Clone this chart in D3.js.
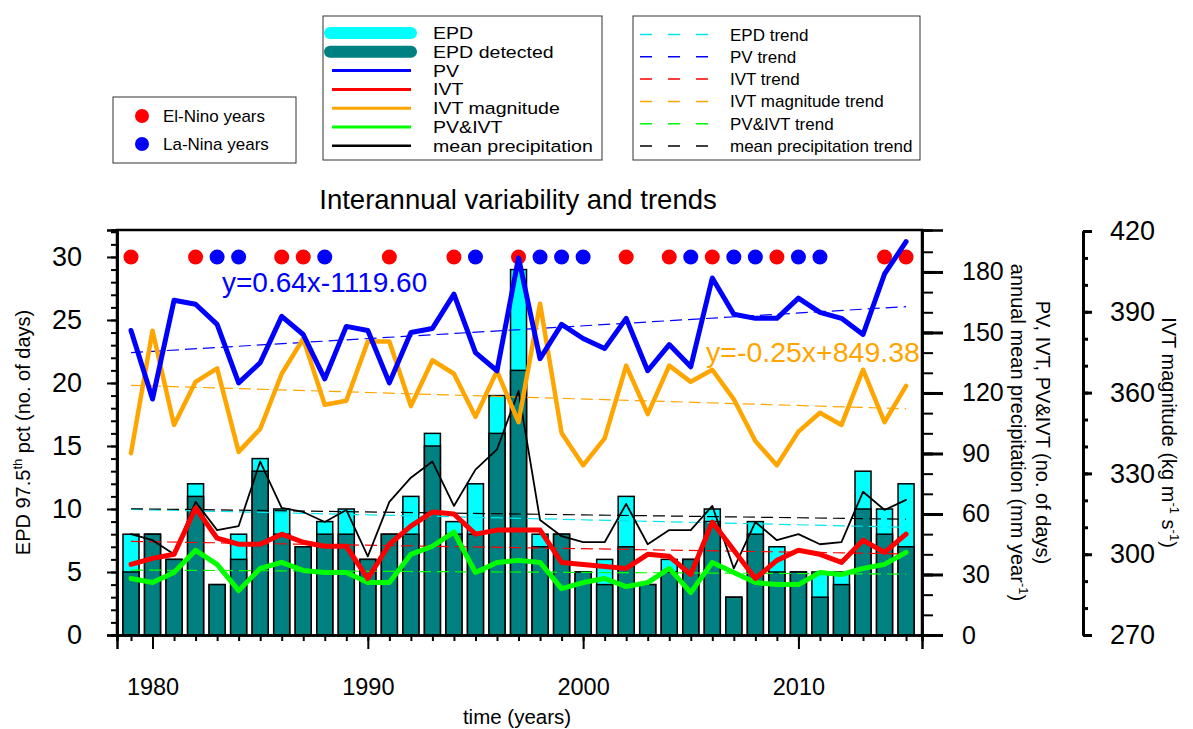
<!DOCTYPE html>
<html>
<head>
<meta charset="utf-8">
<script src="https://cdn.jsdelivr.net/npm/d3@7"></script>
<style>
  body { margin: 0; background: #fff; }
  svg { font-family: "Liberation Sans", Arial, Helvetica, sans-serif; }
</style>
</head>
<body>
<svg width="1193" height="729"></svg>
<script>
// ---- data ----
var years = d3.range(1979, 2016);
var epdTotal    = [8,8,6,12,4,8,14,10,7,9,10,6,8,11,16,9,12,19,29,8,8,5,6,11,4,6,6,10,3,9,7,5,5,5,13,10,12];
var epdDetected = [5,8,6,11,4,6,13,8,7,8,8,6,8,8,15,8,8,16,21,7,8,5,4,7,4,5,6,9,3,8,5,5,3,4,10,8,7];
var pvDays   = [151,117,166,164,154,125,135,158,149,127,153,151,125,150,152,169,140,131,187,137,154,147,142,157,131,144,133,177,159,157,157,167,160,157,149,179,195];
var ivtDays  = [35,38,40,63,48,45,45,50,46,44,44,28,45,54,61,60,50,52,52,52,36,35,34,33,40,39,30,56,42,28,37,42,40,36,47,41,50];
var pvIvtDays = [28,26,31,42,35,22,33,36,32,31,31,26,26,40,44,51,31,36,37,36,23,26,28,24,26,33,21,36,31,26,25,25,31,30,33,35,41];
var ivtMag   = [337.5,383,348,364,369,338,346.5,367,380,355.5,357,379,379,355,372,367,351,368,349,393,345,333,343,370,352,370,364,368.5,357.5,342,333,345.5,352.5,348,368.5,349,362.5];
var precip   = [50,47,40,66,52,54,86,63,61,56,62,39,66,78,86,64,82,92,121,57,49,46,46,65,45,52,52,64,33,56,47,50,45,46,71,62,67];

var elNino = [1979,1982,1986,1987,1991,1994,1997,2002,2004,2006,2009,2014,2015];
var laNina = [1983,1984,1988,1995,1998,1999,2000,2005,2007,2008,2010,2011];

// trend lines: [value at 1979, value at 2015]
var trendNames  = ['EPD trend','PV trend','IVT trend','IVT magnitude trend','PV&IVT trend','mean precipitation trend'];
var trendColors = ['#00e5ee','#0000ff','#ff0000','#ffa500','#00ff00','#000000'];
var trendAxis   = ['left','right','right','mag','right','right'];
var trendEnds   = [[9.97,8.55],[140,162.8],[46.4,40.2],[362.7,354],[32.2,30.2],[62.6,57.4]];

var leftTicks  = [0,5,10,15,20,25,30];
var rightTicks = [0,30,60,90,120,150,180];
var magTicks   = [270,300,330,360,390,420];
var yearTicks  = [1980,1990,2000,2010];

// ---- layout ----
var svg = d3.select('svg');
var L = 117, R = 922, T = 230, B = 635;

var x = d3.scaleLinear().domain([1978.35, 2015.74]).range([L, R]);
var yL = d3.scaleLinear().domain([0, 32.14]).range([B, T]);
var yR = d3.scaleLinear().domain([0, 200.8]).range([B, T]);
var yM = d3.scaleLinear().domain([270, 420]).range([B, 231]);
var scaleFor = {left: yL, right: yR, mag: yM};

// bars
var barW = 16;
var bars = years.map(function(y, i) { return {year: y, tot: epdTotal[i], det: epdDetected[i]}; });
svg.append('g').selectAll('rect').data(bars).enter().append('rect')
   .attr('x', function(d) { return x(d.year) - barW / 2; })
   .attr('y', function(d) { return yL(d.tot); })
   .attr('width', barW)
   .attr('height', function(d) { return B - yL(d.tot); })
   .attr('fill', '#00ffff').attr('stroke', '#000').attr('stroke-width', 1.5);
svg.append('g').selectAll('rect').data(bars).enter().append('rect')
   .attr('x', function(d) { return x(d.year) - barW / 2; })
   .attr('y', function(d) { return yL(d.det); })
   .attr('width', barW)
   .attr('height', function(d) { return B - yL(d.det); })
   .attr('fill', '#008080').attr('stroke', '#000').attr('stroke-width', 1.5);

// ENSO dots
svg.append('g').selectAll('circle').data(elNino).enter().append('circle')
   .attr('cx', function(d) { return x(d); }).attr('cy', yL(30)).attr('r', 7.5).attr('fill', '#ff0000');
svg.append('g').selectAll('circle').data(laNina).enter().append('circle')
   .attr('cx', function(d) { return x(d); }).attr('cy', yL(30)).attr('r', 7.5).attr('fill', '#0000ff');

// trend lines
trendEnds.forEach(function(e, i) {
  var s = scaleFor[trendAxis[i]];
  svg.append('line')
     .attr('x1', x(1979)).attr('x2', x(2015))
     .attr('y1', s(e[0])).attr('y2', s(e[1]))
     .attr('stroke', trendColors[i]).attr('stroke-width', 1.2)
     .attr('stroke-dasharray', '12,6');
});

// series lines
function drawLine(vals, scale, color, w) {
  var line = d3.line().x(function(d, i) { return x(years[i]); }).y(function(d) { return scale(d); });
  svg.append('path').datum(vals).attr('d', line)
     .attr('fill', 'none').attr('stroke', color).attr('stroke-width', w)
     .attr('stroke-linejoin', 'round').attr('stroke-linecap', 'round');
}
drawLine(precip, yR, '#000000', 1.8);
drawLine(ivtMag, yM, '#ffa500', 4.5);
drawLine(pvIvtDays, yR, '#00ff00', 5);
drawLine(ivtDays, yR, '#ff0000', 5);
drawLine(pvDays, yR, '#0000ff', 5);

// frame
svg.append('path').attr('d', 'M' + L + ',' + B + 'V' + T + 'H' + R + 'V' + B)
   .attr('fill', 'none').attr('stroke', '#000').attr('stroke-width', 2.5);

function styleAxis(g, size) {
  g.select('.domain').attr('stroke-width', 2.5);
  g.selectAll('.tick line').attr('stroke-width', 2);
  g.selectAll('text').style('font-size', size + 'px').attr('fill', '#000');
}

// left axis
var gl = svg.append('g').attr('transform', 'translate(' + L + ',0)');
gl.call(d3.axisLeft(yL).tickValues(d3.range(0, 33)).tickSize(6).tickFormat(''));
gl.append('g').call(d3.axisLeft(yL).tickValues(leftTicks).tickSize(10).tickPadding(25));
styleAxis(gl, 27);
gl.selectAll('.domain').attr('stroke-width', 2.5);

// bottom axis
var gb = svg.append('g').attr('transform', 'translate(0,' + B + ')');
gb.call(d3.axisBottom(x).tickValues(years).tickSize(6).tickFormat(''));
gb.append('g').call(d3.axisBottom(x).tickValues(yearTicks).tickSize(14).tickPadding(29).tickFormat(d3.format('d')));
styleAxis(gb, 23.5);
gb.selectAll('.domain').attr('stroke-width', 2.5);

// right axis
var gr = svg.append('g').attr('transform', 'translate(' + R + ',0)');
gr.call(d3.axisRight(yR).tickValues(d3.range(0, 200, 10)).tickSize(11).tickFormat(''));
gr.append('g').call(d3.axisRight(yR).tickValues(rightTicks).tickSize(21).tickPadding(19));
styleAxis(gr, 25);
gr.selectAll('.tick line').filter(function(d) { return rightTicks.indexOf(d) >= 0; }).attr('stroke-width', 3);
gr.selectAll('.domain').attr('stroke-width', 2.5);

// IVT magnitude axis
var gm = svg.append('g').attr('transform', 'translate(1083,0)');
gm.call(d3.axisRight(yM).tickValues(d3.range(270, 421, 10)).tickSize(5).tickFormat('').tickSizeOuter(0));
gm.append('g').call(d3.axisRight(yM).tickValues(magTicks).tickSize(9).tickPadding(18).tickSizeOuter(0));
styleAxis(gm, 27);
gm.selectAll('.tick line').attr('stroke-width', 3);
gm.selectAll('.domain').attr('stroke-width', 3);

// axis titles
var lt = svg.append('text').attr('transform', 'translate(30,' + ((T + B) / 2) + ') rotate(-90)')
   .attr('text-anchor', 'middle').style('font-size', '20px');
lt.append('tspan').text('EPD 97.5');
lt.append('tspan').text('th').attr('dy', -8).style('font-size', '13px');
lt.append('tspan').text(' pct (no. of days)').attr('dy', 8);

svg.append('text').attr('x', 517).attr('y', 724).attr('text-anchor', 'middle')
   .style('font-size', '20.5px').text('time (years)');

svg.append('text').attr('transform', 'translate(1036,' + ((T + B) / 2) + ') rotate(90)')
   .attr('text-anchor', 'middle').style('font-size', '20px').text('PV, IVT, PV&IVT (no. of days)');
var rt2 = svg.append('text').attr('transform', 'translate(1011,' + ((T + B) / 2) + ') rotate(90)')
   .attr('text-anchor', 'middle').style('font-size', '20px');
rt2.append('tspan').text('annual mean precipitation (mm year');
rt2.append('tspan').text('-1').attr('dy', -8).style('font-size', '13px');
rt2.append('tspan').text(')').attr('dy', 8);

var mt = svg.append('text').attr('transform', 'translate(1162,' + ((T + B) / 2) + ') rotate(90)')
   .attr('text-anchor', 'middle').style('font-size', '20px');
mt.append('tspan').text('IVT magnitude (kg m');
mt.append('tspan').text('-1').attr('dy', -8).style('font-size', '13px');
mt.append('tspan').text(' s').attr('dy', 8);
mt.append('tspan').text('-1').attr('dy', -8).style('font-size', '13px');
mt.append('tspan').text(')').attr('dy', 8);

// title and equations
svg.append('text').attr('x', 518).attr('y', 209).attr('text-anchor', 'middle')
   .style('font-size', '27.5px').text('Interannual variability and trends');
svg.append('text').attr('x', 222).attr('y', 292).style('font-size', '28px')
   .attr('fill', '#0000ff').text('y=0.64x-1119.60');
svg.append('text').attr('x', 706).attr('y', 362).style('font-size', '28.5px')
   .attr('fill', '#ffa500').text('y=-0.25x+849.38');

// legend 1: ENSO
var lg1 = svg.append('g');
lg1.append('rect').attr('x', 113).attr('y', 97).attr('width', 183).attr('height', 66)
   .attr('fill', '#fff').attr('stroke', '#333').attr('stroke-width', 1);
[['El-Nino years', '#ff0000'], ['La-Nina years', '#0000ff']].forEach(function(d, i) {
  lg1.append('circle').attr('cx', 142).attr('cy', 116 + i * 28).attr('r', 7).attr('fill', d[1]);
  lg1.append('text').attr('x', 163).attr('y', 122 + i * 28).style('font-size', '17px').text(d[0]);
});

// legend 2: series (rows are tight, so the text is stretched sideways instead of enlarged)
var seriesNames  = ['EPD','EPD detected','PV','IVT','IVT magnitude','PV&IVT','mean precipitation'];
var seriesColors = ['#00ffff','#008080','#0000ff','#ff0000','#ffa500','#00ff00','#000000'];
var seriesWidths = [12,12,3,3,3,3,2.5];
var lg2 = svg.append('g');
lg2.append('rect').attr('x', 323).attr('y', 16).attr('width', 279).attr('height', 144)
   .attr('fill', '#fff').attr('stroke', '#333').attr('stroke-width', 1);
seriesNames.forEach(function(n, i) {
  var yy = 33 + i * 18.8;
  var thick = seriesWidths[i] > 5;
  lg2.append('line').attr('x1', thick ? 330 : 332).attr('x2', 411)
     .attr('y1', yy).attr('y2', yy)
     .attr('stroke', seriesColors[i]).attr('stroke-width', seriesWidths[i])
     .attr('stroke-linecap', thick ? 'round' : 'butt');
  lg2.append('text').attr('transform', 'translate(433,' + (yy + 6) + ') scale(1.2,1)')
     .style('font-size', '16.3px').text(n);
});

// legend 3: trends
var lg3 = svg.append('g');
lg3.append('rect').attr('x', 633).attr('y', 16).attr('width', 287).attr('height', 144)
   .attr('fill', '#fff').attr('stroke', '#333').attr('stroke-width', 1);
trendNames.forEach(function(n, i) {
  var yy = 34.5 + i * 22.3;
  lg3.append('line').attr('x1', 640).attr('x2', 709).attr('y1', yy).attr('y2', yy)
     .attr('stroke', trendColors[i]).attr('stroke-width', 1.5).attr('stroke-dasharray', '12,16');
  lg3.append('text').attr('x', 730).attr('y', yy + 6).style('font-size', '17px').text(n);
});
</script>
</body>
</html>
